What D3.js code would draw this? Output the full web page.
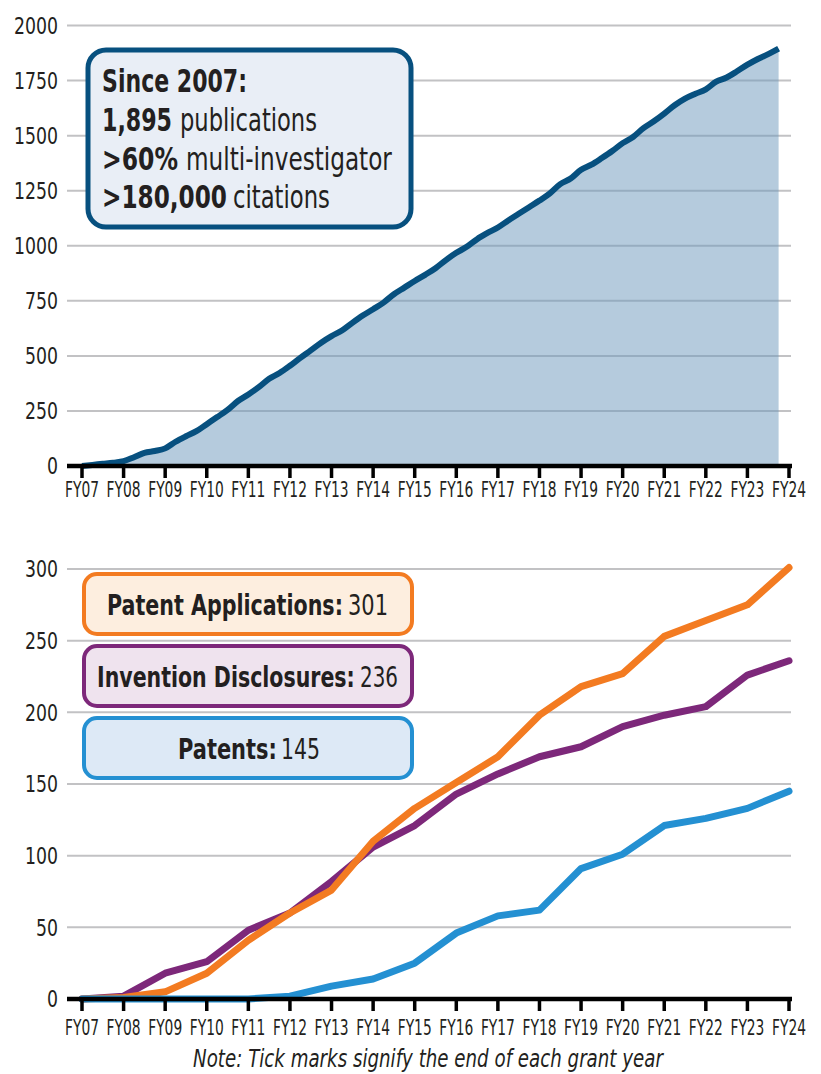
<!DOCTYPE html>
<html>
<head>
<meta charset="utf-8">
<script src="https://cdn.jsdelivr.net/npm/d3@7"></script>
<style>
  html, body { margin: 0; padding: 0; background: #fff; }
  svg { display: block; }
  text { font-family: "Liberation Sans Narrow", "DejaVu Sans Condensed", "Roboto", sans-serif; fill: #231f20; }
</style>
</head>
<body>
<div id="chart"></div>
<script>
// Publications (cumulative, quarterly from start of FY07) + IP counts (cumulative, by grant year)
const fyLabels = ["FY07","FY08","FY09","FY10","FY11","FY12","FY13","FY14","FY15",
  "FY16","FY17","FY18","FY19","FY20","FY21","FY22","FY23","FY24"];

const publications = [
  0, 5, 10, 15, 22, 40, 60, 68, 80, 110, 135, 158, 190, 222, 255, 295,
  325, 358, 396, 422, 455, 491, 525, 560, 590, 615, 650, 683, 712, 742, 780, 810,
  840, 868, 898, 935, 968, 995, 1030, 1058, 1083, 1115, 1145, 1175, 1205, 1238, 1280, 1305,
  1345, 1368, 1398, 1430, 1466, 1494, 1534, 1565, 1600, 1638, 1668, 1690, 1710, 1745, 1764, 1792,
  1822, 1848, 1870, 1895
];

const patentApplications = [0, 1, 5, 18, 41, 60, 76, 110, 133, 151, 169, 198, 218, 227, 253, 264, 275, 301];
const inventionDisclosures = [0, 2, 18, 26, 48, 60, 82, 106, 121, 143, 157, 169, 176, 190, 198, 204, 226, 236];
const patents = [0, 0, 0, 0, 0, 2, 9, 14, 25, 46, 58, 62, 91, 101, 121, 126, 133, 145];

const topTicks = [0, 250, 500, 750, 1000, 1250, 1500, 1750, 2000];
const bottomTicks = [0, 50, 100, 150, 200, 250, 300];

const W = 821, H = 1074;

const svg = d3.select("#chart").append("svg")
  .attr("width", W).attr("height", H)
  .attr("viewBox", `0 0 ${W} ${H}`);

// shared x scale: position by FY index (0 = FY07 tick)
const x = d3.scaleLinear().domain([0, fyLabels.length - 1]).range([82, 789]);
const gridX0 = 67, gridX1 = 791;

// the original face is a condensed one: squeeze each text horizontally to a given width
function fitText(g, str, xPos, yPos, size, width, opts = {}) {
  const t = g.append("text")
    .attr("font-size", size)
    .attr("font-weight", opts.bold ? "bold" : "normal")
    .attr("font-style", opts.italic ? "italic" : "normal")
    .attr("text-anchor", opts.anchor || "start")
    .attr("dy", opts.dy || null)
    .text(str);
  const natural = t.node().getComputedTextLength() || width;
  t.attr("transform", `translate(${xPos},${yPos}) scale(${width / natural},1)`);
  return t;
}

// gridlines + y labels for one panel
function drawFrame(y, ticks) {
  const g = svg.append("g");

  g.selectAll("line.grid")
    .data(ticks.filter((d) => d !== 0))
    .join("line")
    .attr("class", "grid")
    .attr("x1", gridX0).attr("x2", gridX1)
    .attr("y1", (d) => y(d)).attr("y2", (d) => y(d))
    .attr("stroke", "#c2c2c4")
    .attr("stroke-width", 2);

  ticks.forEach((d) => {
    fitText(g, String(d), 58, y(d), 23, String(d).length * 11, { anchor: "end", dy: "0.36em" });
  });
}

function drawXAxis(axisY, labelBaseline) {
  const g = svg.append("g");
  g.append("line")
    .attr("x1", gridX0).attr("x2", gridX1 + 1)
    .attr("y1", axisY).attr("y2", axisY)
    .attr("stroke", "#000")
    .attr("stroke-width", 4.5);

  g.selectAll("line.tick")
    .data(fyLabels)
    .join("line")
    .attr("class", "tick")
    .attr("x1", (d, i) => x(i)).attr("x2", (d, i) => x(i))
    .attr("y1", axisY).attr("y2", axisY + 12)
    .attr("stroke", "#000")
    .attr("stroke-width", 3.5);

  fyLabels.forEach((d, i) => {
    fitText(g, d, x(i), labelBaseline, 21, 34, { anchor: "middle" });
  });
}

// ---------- Top panel: publications ----------
const yTop = d3.scaleLinear().domain([0, 2000]).range([466, 25.5]);
drawFrame(yTop, topTicks);

svg.append("path")
  .datum(publications)
  .attr("fill", "#6b98bb")
  .attr("fill-opacity", 0.5)
  .attr("d", d3.area()
    .x((d, i) => x(i / 4))
    .y0(yTop(0))
    .y1((d) => yTop(d))
    .curve(d3.curveMonotoneX));

svg.append("path")
  .datum(publications)
  .attr("fill", "none")
  .attr("stroke", "#07507f")
  .attr("stroke-width", 6)
  .attr("stroke-linecap", "butt")
  .attr("stroke-linejoin", "round")
  .attr("d", d3.line()
    .x((d, i) => x(i / 4))
    .y((d) => yTop(d))
    .curve(d3.curveMonotoneX));

drawXAxis(466, 497);

// summary box
const topBox = svg.append("g");
topBox.append("rect")
  .attr("x", 88).attr("y", 50)
  .attr("width", 323).attr("height", 177)
  .attr("rx", 18)
  .attr("fill", "#e9eef6")
  .attr("stroke", "#07507f")
  .attr("stroke-width", 5);

// [bold text, bold width, regular text, regular x, regular width]
const boxLines = [
  ["Since 2007:", 145, "", 0, 0],
  ["1,895", 70, "publications", 180, 137],
  [">60%", 76, "multi-investigator", 186, 206],
  [">180,000", 125, "citations", 233, 97]
];

boxLines.forEach(([b, bw, r, rx, rw], i) => {
  const yy = 92 + i * 38.8;
  fitText(topBox, b, 102, yy, 32, bw, { bold: true });
  if (r) fitText(topBox, r, rx, yy, 32, rw);
});

// ---------- Bottom panel: IP ----------
const yBot = d3.scaleLinear().domain([0, 300]).range([999, 569]);
drawFrame(yBot, bottomTicks);

const ipLine = d3.line()
  .x((d, i) => x(i))
  .y((d) => yBot(d));

const series = [
  { name: "Invention Disclosures", values: inventionDisclosures, color: "#7d287a", fill: "#efe3ee" },
  { name: "Patent Applications", values: patentApplications, color: "#f37b21", fill: "#fdeedf" },
  { name: "Patents", values: patents, color: "#2490d2", fill: "#dde9f6" }
];

series.forEach((s) => {
  svg.append("path")
    .datum(s.values)
    .attr("fill", "none")
    .attr("stroke", s.color)
    .attr("stroke-width", 7)
    .attr("stroke-linecap", "round")
    .attr("stroke-linejoin", "round")
    .attr("d", ipLine);
});

drawXAxis(999, 1035);

// legend boxes: bold label span and value span positions
const legendRows = [
  { s: series[1], y: 574, bx: 107, bw: 236, vx: 348, vw: 40 },
  { s: series[0], y: 646, bx: 97, bw: 258, vx: 360, vw: 38 },
  { s: series[2], y: 718, bx: 178, bw: 99, vx: 281, vw: 39 }
];

legendRows.forEach((r) => {
  const g = svg.append("g");
  g.append("rect")
    .attr("x", 84).attr("y", r.y)
    .attr("width", 328).attr("height", 60)
    .attr("rx", 13)
    .attr("fill", r.s.fill)
    .attr("stroke", r.s.color)
    .attr("stroke-width", 4);
  const last = r.s.values[r.s.values.length - 1];
  fitText(g, r.s.name + ":", r.bx, r.y + 41, 29, r.bw, { bold: true });
  fitText(g, String(last), r.vx, r.y + 41, 29, r.vw);
});

// footnote
fitText(svg, "Note: Tick marks signify the end of each grant year", 428, 1067, 24, 470,
  { italic: true, anchor: "middle" });
</script>
</body>
</html>
